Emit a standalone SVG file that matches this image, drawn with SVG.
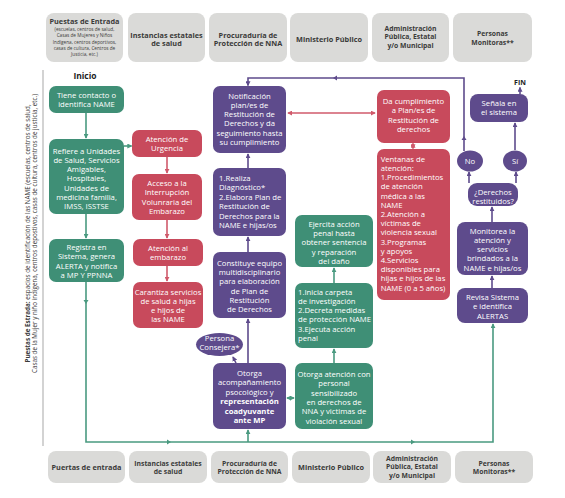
<svg xmlns="http://www.w3.org/2000/svg" width="565" height="498" viewBox="0 0 565 498">
<defs>
<style>
.hd{fill:#dadad8}
.ht{font-family:"Open Sans","DejaVu Sans",sans-serif;font-weight:700;font-size:7.3px;fill:#3a3a3a;text-anchor:middle}
.hb{font-size:6.8px}
.hs{font-family:"Open Sans","DejaVu Sans",sans-serif;font-size:4.7px;fill:#3a3a3a;text-anchor:middle}
.g{fill:#3f8f76}
.r{fill:#c84a5c}
.p{fill:#5e4b8c}
.t{font-family:"Open Sans","DejaVu Sans",sans-serif;font-size:7.7px;fill:#fff;text-anchor:middle}
.tl{font-family:"Open Sans","DejaVu Sans",sans-serif;font-size:7.7px;fill:#fff}
.b{font-weight:700}
.lg{fill:none;stroke:#4a9a80;stroke-width:1.6}
.lr{fill:none;stroke:#d05a6b;stroke-width:1.6}
.lp{fill:none;stroke:#5e4b8c;stroke-width:1.6}
.side{font-family:"Open Sans","DejaVu Sans",sans-serif;font-size:6.3px;fill:#3a3a3a;text-anchor:middle}
</style>
<marker id="aG" viewBox="0 0 6 6" refX="5" refY="3" markerWidth="5" markerHeight="5" orient="auto-start-reverse" markerUnits="userSpaceOnUse"><path d="M0,0 L6,3 L0,6 z" fill="#4a9a80"/></marker>
<marker id="aR" viewBox="0 0 6 6" refX="5" refY="3" markerWidth="5" markerHeight="5" orient="auto-start-reverse" markerUnits="userSpaceOnUse"><path d="M0,0 L6,3 L0,6 z" fill="#d05a6b"/></marker>
<marker id="aP" viewBox="0 0 6 6" refX="5" refY="3" markerWidth="5" markerHeight="5" orient="auto-start-reverse" markerUnits="userSpaceOnUse"><path d="M0,0 L6,3 L0,6 z" fill="#5e4b8c"/></marker>
</defs>
<rect width="565" height="498" fill="#fff"/>

<!-- headers top -->
<g id="hdr-top">
<rect class="hd" x="46" y="13" width="77" height="49" rx="8"/>
<text class="ht" x="84.5" y="24.3">Puestas de Entrada</text>
<text class="hs" x="84.5" y="31">(escuelas, centros de salud,</text>
<text class="hs" x="84.5" y="37.4">Casas de Mujeres y Niños</text>
<text class="hs" x="84.5" y="43.7">Indígena, centros deportivos,</text>
<text class="hs" x="84.5" y="50">casas de cultura, Centros de</text>
<text class="hs" x="84.5" y="56.4">Justicia, etc.)</text>
<rect class="hd" x="128" y="13" width="77" height="49" rx="8"/>
<text class="ht" x="166.5" y="37.5">Instancias estatales</text>
<text class="ht" x="166.5" y="46">de salud</text>
<rect class="hd" x="209" y="13" width="78" height="49" rx="8"/>
<text class="ht" x="248" y="37.5">Procuraduría de</text>
<text class="ht" x="248" y="46">Protección de NNA</text>
<rect class="hd" x="290" y="13" width="78" height="49" rx="8"/>
<text class="ht" x="329" y="41.5">Ministerio Público</text>
<rect class="hd" x="372" y="13" width="77" height="49" rx="8"/>
<text class="ht hb" x="410.5" y="30.8">Administración</text>
<text class="ht hb" x="410.5" y="39.4">Pública, Estatal</text>
<text class="ht hb" x="410.5" y="48">y/o Municipal</text>
<rect class="hd" x="453" y="13" width="79" height="49" rx="8"/>
<text class="ht hb" x="492.5" y="36.3">Personas</text>
<text class="ht hb" x="492.5" y="44.9">Monitoras**</text>
</g>

<!-- headers bottom -->
<g id="hdr-bottom">
<rect class="hd" x="48" y="451" width="77" height="32" rx="8"/>
<text class="ht" x="86.5" y="470">Puertas de entrada</text>
<rect class="hd" x="129" y="451" width="78" height="32" rx="8"/>
<text class="ht hb" x="168" y="465.8">Instancias estatales</text>
<text class="ht hb" x="168" y="474.3">de salud</text>
<rect class="hd" x="211" y="451" width="77" height="32" rx="8"/>
<text class="ht hb" x="249.5" y="465.8">Procuraduría de</text>
<text class="ht hb" x="249.5" y="474.3">Protección de NNA</text>
<rect class="hd" x="292" y="451" width="78" height="32" rx="8"/>
<text class="ht" x="331" y="470">Ministerio Público</text>
<rect class="hd" x="373" y="451" width="78" height="32" rx="8"/>
<text class="ht hb" x="412" y="461.3">Administración</text>
<text class="ht hb" x="412" y="469.4">Pública, Estatal</text>
<text class="ht hb" x="412" y="477.5">y/o Municipal</text>
<rect class="hd" x="455" y="451" width="78" height="32" rx="8"/>
<text class="ht hb" x="494" y="465.6">Personas</text>
<text class="ht hb" x="494" y="474">Monitoras**</text>
</g>

<!-- side -->
<line x1="43" y1="70" x2="43" y2="446" stroke="#c4c4c4" stroke-width="1.5"/>
<text class="side" transform="translate(29.5,233.5) rotate(-90)"><tspan class="b">Puestas de Estrada:</tspan> espacios de identificación de las NAME (escuelas, centros de salud,</text>
<text class="side" transform="translate(36.8,233.5) rotate(-90)">Casas de la Mujer y niño indígena, centros depostivos, casas de cultura, centros de justicia, etc.)</text>
<text x="85" y="79" font-family="Open Sans, DejaVu Sans, sans-serif" font-weight="700" font-size="8.5" fill="#222" text-anchor="middle">Inicio</text>
<text x="520" y="84.5" font-family="Open Sans, DejaVu Sans, sans-serif" font-weight="700" font-size="7" fill="#222" text-anchor="middle">FIN</text>

<!-- connectors -->
<g id="connectors">
<path class="lg" d="M86,113 V138" marker-end="url(#aG)"/>
<path class="lg" d="M124,146 H131.5" marker-end="url(#aG)"/>
<path class="lg" d="M86,214 V238" marker-end="url(#aG)"/>
<path class="lg" d="M86,282 V442 H493 V324" marker-end="url(#aG)"/>
<path class="lg" d="M248,442 V430" marker-end="url(#aG)"/>
<path d="M83.5,300 L86,304 L88.5,300" fill="#4a9a80"/>
<path d="M167,439.5 L171,442 L167,444.5" fill="#4a9a80"/>
<path d="M411,439.5 L415,442 L411,444.5" fill="#4a9a80"/>
<path class="lg" d="M287,398 H294" marker-start="url(#aG)" marker-end="url(#aG)"/>
<path class="lg" d="M334,363 V349" marker-end="url(#aG)"/>
<path class="lg" d="M334,283 V268" marker-end="url(#aG)"/>
<path class="lr" d="M167,157 V173" marker-end="url(#aR)"/>
<path class="lr" d="M167,220 V238" marker-end="url(#aR)"/>
<path class="lr" d="M167,266 V281" marker-end="url(#aR)"/>
<path class="lr" d="M288,113 H375" marker-start="url(#aR)" marker-end="url(#aR)"/>
<path class="lr" d="M413,143.5 V148.5" marker-start="url(#aR)" marker-end="url(#aR)" stroke-width="1.2"/>
<path class="lp" d="M248,363 V319" marker-end="url(#aP)"/>
<path class="lp" d="M248,252 V237" marker-end="url(#aP)"/>
<path class="lp" d="M248,168 V154" marker-end="url(#aP)"/>
<path class="lp" d="M236,363 L233,357" marker-end="url(#aP)" stroke-width="1.3"/>
<path class="lp" d="M464,151 V78 H248 V85.5" marker-end="url(#aP)"/>
<path d="M461.5,140 L464,136 L466.5,140" fill="#5e4b8c"/>
<path d="M337,75.5 L333,78 L337,80.5" fill="#5e4b8c"/>
<path class="lp" d="M469,183 V172" marker-end="url(#aP)"/>
<path class="lp" d="M516,183 V172" marker-end="url(#aP)"/>
<path class="lp" d="M515,150 V123" marker-end="url(#aP)"/>
<path class="lp" d="M520,94 V87.5" marker-end="url(#aP)"/>
<path class="lp" d="M492,222 V207" marker-end="url(#aP)"/>
<path class="lp" d="M492,288 V276" marker-end="url(#aP)"/>
</g>

<!-- green nodes -->
<g id="n-contacto">
<rect class="g" x="49" y="86" width="75" height="27" rx="7"/>
<text class="t" x="86.5" y="97.5">Tiene contacto o</text>
<text class="t" x="86.5" y="106.8">identifica NAME</text>
</g>
<g id="n-refiere">
<rect class="g" x="49" y="139" width="75" height="75" rx="7"/>
<text class="t" x="86.5" y="153.5">Refiere a Unidades</text>
<text class="t" x="86.5" y="162.8">de Salud, Servicios</text>
<text class="t" x="86.5" y="172.1">Amigables,</text>
<text class="t" x="86.5" y="181.4">Hospitales,</text>
<text class="t" x="86.5" y="190.7">Unidades de</text>
<text class="t" x="86.5" y="200">medicina familia,</text>
<text class="t" x="86.5" y="209.3">IMSS, ISSTSE</text>
</g>
<g id="n-registra">
<rect class="g" x="49" y="239" width="75" height="43" rx="7"/>
<text class="t" x="86.5" y="250">Registra en</text>
<text class="t" x="86.5" y="259.4">Sistema, genera</text>
<text class="t" x="86.5" y="268.8">ALERTA y notifica</text>
<text class="t" x="86.5" y="278">a MP Y PPNNA</text>
</g>

<!-- red nodes -->
<g id="n-urgencia">
<rect class="r" x="132" y="130" width="70" height="27" rx="7"/>
<text class="t" x="167" y="142">Atención de</text>
<text class="t" x="167" y="151.4">Urgencia</text>
</g>
<g id="n-ive">
<rect class="r" x="132" y="174" width="70" height="46" rx="7"/>
<text class="t" x="167" y="186">Acceso a la</text>
<text class="t" x="167" y="195.4">Interrupción</text>
<text class="t" x="167" y="204.8">Volunraria del</text>
<text class="t" x="167" y="214">Embarazo</text>
</g>
<g id="n-embarazo">
<rect class="r" x="133" y="239" width="70" height="27" rx="7"/>
<text class="t" x="168" y="250.5">Atención al</text>
<text class="t" x="168" y="260">embarazo</text>
</g>
<g id="n-garantiza">
<rect class="r" x="133" y="282" width="70" height="46" rx="7"/>
<text class="t" x="168" y="294.8">Carantiza servicios</text>
<text class="t" x="168" y="303.9">de salud a hijas</text>
<text class="t" x="168" y="313">e hijos de</text>
<text class="t" x="168" y="322.3">las NAME</text>
</g>

<!-- purple middle -->
<g id="n-notificacion">
<rect class="p" x="213" y="86" width="73" height="67" rx="7"/>
<text class="t" x="249.5" y="98.5">Notificación</text>
<text class="t" x="249.5" y="107.7">plan/es de</text>
<text class="t" x="249.5" y="116.9">Restitución de</text>
<text class="t" x="249.5" y="126.3">Derechos y da</text>
<text class="t" x="249.5" y="135.6">seguimiento hasta</text>
<text class="t" x="249.5" y="144.8">su cumplimiento</text>
</g>
<g id="n-diagnostico">
<rect class="p" x="213" y="168" width="73" height="68" rx="7"/>
<text class="tl" x="219" y="181">1.Realiza</text>
<text class="tl" x="219" y="190.3">Diagnóstico*</text>
<text class="tl" x="219" y="200">2.Elabora Plan de</text>
<text class="tl" x="219" y="209.4">Restitución de</text>
<text class="tl" x="219" y="218.7">Derechos para la</text>
<text class="tl" x="219" y="227.9">NAME e hijas/os</text>
</g>
<g id="n-constituye">
<rect class="p" x="213" y="252" width="73" height="66" rx="7"/>
<text class="t" x="249.5" y="265.5">Constituye equipo</text>
<text class="t" x="249.5" y="274.9">multidisciplinario</text>
<text class="t" x="249.5" y="284.3">para elaboración</text>
<text class="t" x="249.5" y="293.5">de Plan de</text>
<text class="t" x="249.5" y="302.8">Restitución</text>
<text class="t" x="249.5" y="312">de Derechos</text>
</g>
<g id="n-consejera">
<ellipse class="p" cx="219.5" cy="344.5" rx="23.5" ry="11.5"/>
<text class="t" x="219.5" y="340.5">Persona</text>
<text class="t" x="219.5" y="349.6">Consejera*</text>
</g>
<g id="n-otorga">
<rect class="p" x="213" y="363" width="73" height="66" rx="7"/>
<text class="t" x="249.5" y="375.5">Otorga</text>
<text class="t" x="249.5" y="385.2">acompañamiento</text>
<text class="t" x="249.5" y="394.8">psocológico y</text>
<text class="t b" x="249.5" y="404.4">representación</text>
<text class="t b" x="249.5" y="413.7">coadyuvante</text>
<text class="t b" x="249.5" y="422.9">ante MP</text>
</g>

<!-- green MP -->
<g id="n-ejercita">
<rect class="g" x="295" y="215" width="78" height="52" rx="7"/>
<text class="t" x="334" y="226.8">Ejercita acción</text>
<text class="t" x="334" y="236.1">penal hasta</text>
<text class="t" x="334" y="245.4">obtener sentencia</text>
<text class="t" x="334" y="254.7">y reparación</text>
<text class="t" x="334" y="263.8">del daño</text>
</g>
<g id="n-carpeta">
<rect class="g" x="295" y="283" width="78" height="65" rx="7"/>
<text class="tl" x="298" y="294.5">1.Inicia carpeta</text>
<text class="tl" x="298" y="303.8">de investigación</text>
<text class="tl" x="298" y="313">2.Decreta medidas</text>
<text class="tl" x="298" y="322.2">de protección NAME</text>
<text class="tl" x="298" y="331.5">3.Ejecuta acción</text>
<text class="tl" x="298" y="340.8">penal</text>
</g>
<g id="n-atencion">
<rect class="g" x="295" y="363" width="78" height="66" rx="7"/>
<text class="t" x="334" y="377">Otorga atención con</text>
<text class="t" x="334" y="386.3">personal</text>
<text class="t" x="334" y="395.6">sensibilizado</text>
<text class="t" x="334" y="405">en derechos de</text>
<text class="t" x="334" y="414.4">NNA y victimas de</text>
<text class="t" x="334" y="423.8">violación sexual</text>
</g>

<!-- red admin -->
<g id="n-cumplimiento">
<rect class="r" x="377" y="90" width="73" height="53" rx="7"/>
<text class="t" x="413.5" y="103.8">Da cumplimiento</text>
<text class="t" x="413.5" y="113.1">a Plan/es de</text>
<text class="t" x="413.5" y="122.6">Restitución de</text>
<text class="t" x="413.5" y="131.8">derechos</text>
</g>
<g id="n-ventanas">
<rect class="r" x="377" y="149" width="73" height="151" rx="7"/>
<text class="tl" x="380.7" y="161.8">Ventanas de</text>
<text class="tl" x="380.7" y="171">atención:</text>
<text class="tl" x="380.7" y="180.2">1.Procedimientos</text>
<text class="tl" x="380.7" y="189.4">de atención</text>
<text class="tl" x="380.7" y="198.6">médica a las</text>
<text class="tl" x="380.7" y="207.8">NAME</text>
<text class="tl" x="380.7" y="217">2.Atención a</text>
<text class="tl" x="380.7" y="226.2">víctimas de</text>
<text class="tl" x="380.7" y="235.4">violencia sexual</text>
<text class="tl" x="380.7" y="244.6">3.Programas</text>
<text class="tl" x="380.7" y="253.8">y apoyos</text>
<text class="tl" x="380.7" y="263">4.Servicios</text>
<text class="tl" x="380.7" y="272.2">disponibles para</text>
<text class="tl" x="380.7" y="281.4">hijas e hijos de las</text>
<text class="tl" x="380.7" y="290.6">NAME (0 a 5 años)</text>
</g>

<!-- purple monitors -->
<g id="n-senala">
<rect class="p" x="470" y="94" width="58" height="28" rx="8"/>
<text class="t" x="499" y="106">Señala en</text>
<text class="t" x="499" y="115.4">el sistema</text>
</g>
<g id="n-no">
<ellipse class="p" cx="470" cy="161" rx="13" ry="10.5"/>
<text class="t" x="470" y="163.8">No</text>
</g>
<g id="n-si">
<ellipse class="p" cx="515" cy="161" rx="12" ry="10.5"/>
<text class="t" x="515" y="163.8">Sí</text>
</g>
<g id="n-derechos">
<rect class="p" x="468" y="183" width="50" height="23" rx="9"/>
<text class="t" x="493" y="194.5">¿Derechos</text>
<text class="t" x="493" y="203.8">restituidos?</text>
</g>
<g id="n-monitorea">
<rect class="p" x="457" y="222" width="71" height="53" rx="8"/>
<text class="t" x="492.5" y="233.8">Monitorea la</text>
<text class="t" x="492.5" y="243">atención y</text>
<text class="t" x="492.5" y="252">servicios</text>
<text class="t" x="492.5" y="261.2">brindados a la</text>
<text class="t" x="492.5" y="270.5">NAME e hijas/os</text>
</g>
<g id="n-revisa">
<rect class="p" x="457" y="288" width="71" height="35" rx="8"/>
<text class="t" x="492.5" y="300">Revisa Sistema</text>
<text class="t" x="492.5" y="309.4">e identifica</text>
<text class="t" x="492.5" y="318.8">ALERTAS</text>
</g>
</svg>
